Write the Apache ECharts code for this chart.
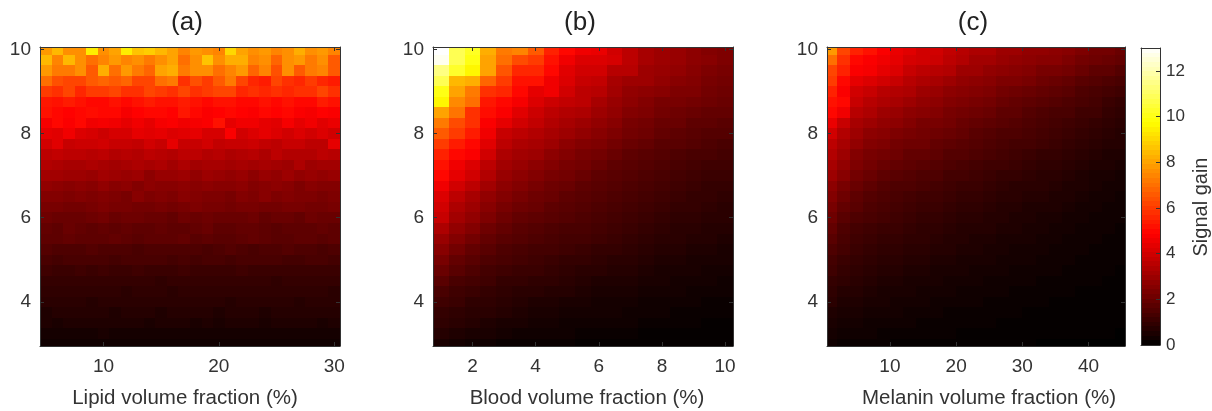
<!DOCTYPE html>
<html lang="en">
<head>
<meta charset="UTF-8">
<title>Signal gain maps</title>
<script src="https://cdn.jsdelivr.net/npm/echarts@6/dist/echarts.min.js"></script>
<style>html,body{margin:0;padding:0;background:#fff}</style>
</head>
<body>
<div id="main" style="width:1212px;height:411px"></div>
<script>
// depth rows, top to bottom
var depths = [10,9.75,9.5,9.25,9,8.75,8.5,8.25,8,7.75,7.5,7.25,7,6.75,6.5,6.25,6,5.75,5.5,5.25,5,4.75,4.5,4.25,4,3.75,3.5,3.25,3];
var lipid = [5,6,7,8,9,10,11,12,13,14,15,16,17,18,19,20,21,22,23,24,25,26,27,28,29,30];
var blood = [1,1.5,2,2.5,3,3.5,4,4.5,5,5.5,6,6.5,7,7.5,8,8.5,9,9.5,10];
var melanin = [1,3,5,7,9,11,13,15,17,19,21,23,25,27,29,31,33,35,37,39,41,43,45];

// signal gain x10, one line per depth row
var lipidGain = [
[78,84,76,76,94,76,80,94,86,88,84,80,74,78,76,74,90,80,76,78,74,76,82,76,78,74],
[84,74,84,76,70,74,78,74,76,72,76,80,70,76,86,76,82,82,74,76,68,76,78,72,76,66],
[78,72,72,76,66,82,70,78,72,68,80,82,72,76,76,70,74,78,68,74,64,76,66,72,74,66],
[70,64,62,62,66,68,66,68,62,62,70,72,58,64,60,66,72,62,56,54,62,58,56,60,56,54],
[60,58,62,56,60,60,62,58,58,62,60,58,62,58,60,62,62,56,58,56,58,56,58,58,62,58],
[53,52,54,52,50,50,52,50,52,54,52,52,54,52,50,52,52,50,50,52,50,52,50,50,54,52],
[52,50,49,50,51,50,50,47,49,50,50,49,53,50,48,49,50,49,48,50,49,50,48,47,49,48],
[47,50,48,50,46,47,46,44,46,44,47,48,46,47,48,52,44,46,46,44,43,47,44,46,43,45],
[44,43,46,42,41,39,41,41,44,43,44,42,43,44,41,41,48,40,42,44,42,40,42,40,42,40],
[40,43,38,39,39,40,38,38,37,40,38,44,38,38,40,37,38,38,39,37,36,38,38,36,36,44],
[36,37,36,36,35,36,34,35,34,36,35,34,36,36,34,35,33,34,35,33,36,34,34,34,36,35],
[34,33,32,32,33,32,31,32,33,32,33,31,33,31,32,32,31,32,31,32,31,30,33,30,31,31],
[31,31,30,30,29,31,30,29,30,27,29,29,30,28,30,29,28,29,27,29,28,30,28,29,28,29],
[28,27,26,27,26,28,26,27,25,27,26,26,27,26,27,26,26,27,25,26,27,26,24,26,25,25],
[25,25,24,25,24,25,24,23,26,24,25,24,26,25,24,24,23,25,24,26,24,25,24,24,23,24],
[23,23,22,22,23,24,23,23,22,22,23,22,23,24,23,23,22,23,23,22,22,23,23,22,22,23],
[21,20,20,20,21,22,20,21,21,20,20,19,21,20,21,20,20,20,21,19,20,20,19,21,20,20],
[19,18,20,19,18,19,18,19,18,18,19,18,18,19,20,18,18,19,19,18,17,18,18,18,19,18],
[18,18,19,18,18,18,19,18,17,18,18,18,19,17,18,17,17,18,19,18,17,17,18,18,17,18],
[16,15,15,15,16,15,15,15,14,15,15,15,15,15,14,15,16,15,14,15,15,16,15,15,14,15],
[14,13,14,14,14,14,13,14,14,14,14,13,14,13,14,14,13,14,14,14,14,13,13,14,14,13],
[12,11,11,12,11,12,11,11,12,11,11,11,12,11,11,11,11,12,11,11,11,11,11,11,11,11],
[10,10,10,10,10,10,10,10,10,10,9,10,10,10,10,10,10,10,10,10,9,10,10,10,10,10],
[9,9,9,9,9,9,9,8,9,9,9,8,9,9,9,9,9,9,9,9,9,9,9,9,9,8],
[8,8,8,8,7,8,8,8,8,8,8,8,8,8,8,8,7,8,8,8,8,8,7,8,8,8],
[6,7,7,7,7,7,6,7,7,7,6,7,7,7,7,6,7,7,7,6,7,7,7,7,7,7],
[6,5,6,6,6,6,6,6,6,5,6,6,6,5,6,5,6,6,6,5,6,6,6,6,5,6],
[4,4,4,4,4,5,4,4,4,4,4,4,4,4,4,4,4,4,4,4,4,4,4,4,4,4],
[3,3,3,3,3,3,3,3,3,3,3,3,3,3,3,3,3,3,3,3,3,3,3,3,3,3]
];
var bloodGain = [
[130,108,102,82,72,74,66,55,50,46,45,40,36,32,30,29,27,25,24],
[128,108,100,80,70,63,60,52,46,42,42,41,36,32,30,29,27,26,24],
[114,103,96,80,65,56,56,50,43,40,40,35,35,30,29,28,26,24,23],
[108,84,82,68,60,52,52,46,42,38,37,32,30,30,28,26,25,23,22],
[100,80,72,58,56,50,44,46,40,36,35,31,28,27,26,24,24,22,21],
[96,75,70,53,50,47,42,39,37,36,32,29,27,25,23,23,22,21,20],
[80,71,58,51,48,43,39,36,34,33,30,28,25,24,22,21,20,19,19],
[72,63,58,48,44,40,37,34,32,30,28,26,23,22,20,20,18,18,17],
[66,60,54,46,38,36,34,32,30,28,26,24,22,21,19,18,17,16,16],
[60,54,50,43,36,33,32,30,27,25,24,22,20,19,17,17,16,15,14],
[55,50,48,40,33,31,30,27,25,23,22,20,18,17,16,15,14,14,13],
[52,46,42,36,31,29,27,25,23,22,20,18,17,16,15,14,13,12,12],
[50,44,40,34,29,27,25,23,22,20,18,17,16,15,14,13,12,11,11],
[46,40,36,31,27,25,23,21,20,18,17,16,15,14,13,12,11,10,10],
[42,36,32,28,25,23,21,20,18,17,16,15,14,13,12,11,10,10,9],
[40,33,30,26,23,21,20,18,17,16,15,14,13,12,11,10,10,9,8],
[38,31,28,24,21,19,18,17,16,15,14,13,12,11,10,9,9,8,8],
[33,28,25,21,19,17,16,15,14,14,13,12,11,10,9,8,8,7,7],
[29,25,22,19,17,16,15,14,13,13,12,11,10,9,8,8,7,7,6],
[26,22,19,17,15,14,13,13,12,11,10,10,9,8,7,7,6,6,5],
[23,19,17,15,14,13,12,11,10,10,9,8,8,7,6,6,5,5,5],
[20,17,15,13,12,11,11,10,9,8,8,7,7,6,5,5,5,4,4],
[17,14,13,12,10,10,9,9,8,7,6,6,6,5,5,4,4,4,3],
[14,12,11,10,9,8,8,7,7,6,5,5,5,4,4,4,3,3,3],
[12,11,9,9,8,7,6,6,5,5,4,4,4,3,3,3,3,2,2],
[10,9,8,8,7,6,5,5,4,4,4,4,3,3,3,2,2,2,2],
[9,8,7,6,5,5,4,4,3,3,3,3,3,2,2,2,2,1,1],
[7,6,5,5,4,3,3,3,3,2,2,2,2,1,1,1,1,1,1],
[5,4,3,3,2,2,2,2,2,1,1,1,1,1,1,1,1,1,1]
];
var melaninGain = [
[78,62,55,52,48,45,43,40,40,37,35,33,33,30,30,28,28,27,26,24,22,22,20],
[70,58,50,48,46,44,41,40,39,36,34,31,31,29,28,27,26,26,24,22,21,20,19],
[62,55,48,47,44,42,38,36,35,34,30,30,28,27,26,25,23,23,22,20,18,18,16],
[60,50,44,42,40,38,35,33,32,30,28,27,26,24,24,23,21,20,19,17,16,15,14],
[55,48,40,38,35,34,33,30,29,27,26,25,24,22,21,20,19,18,17,15,14,13,12],
[52,50,38,35,33,32,30,28,27,25,24,23,22,20,19,18,17,16,15,14,13,11,10],
[50,46,35,33,30,29,27,26,25,23,22,21,20,18,18,16,15,14,14,12,12,10,9],
[45,38,32,30,28,27,25,23,23,22,20,19,18,17,16,15,14,13,12,11,10,9,8],
[40,34,30,27,26,24,23,22,21,20,19,17,16,15,15,14,13,12,11,10,9,8,7],
[36,32,28,25,24,22,21,21,19,18,17,16,15,14,13,13,12,11,10,9,8,7,7],
[34,30,25,23,22,21,19,19,18,16,16,15,14,13,12,11,10,10,9,8,7,6,6],
[32,28,24,22,20,19,18,17,16,15,14,13,12,12,11,10,9,9,8,7,6,6,5],
[30,26,22,20,18,17,16,15,15,13,13,12,11,10,10,9,8,8,7,6,5,5,4],
[27,23,20,18,16,15,15,14,13,12,11,11,10,9,8,8,8,7,6,6,5,4,4],
[25,21,18,16,15,14,13,12,12,11,10,10,9,8,8,7,7,6,6,5,4,4,3],
[23,19,17,15,14,13,12,11,11,10,9,9,8,7,7,6,6,6,5,4,4,3,3],
[21,17,15,14,13,12,11,10,10,9,8,8,7,7,6,6,5,5,4,4,3,3,3],
[19,15,13,12,11,11,10,9,9,8,7,7,7,6,6,5,5,4,4,3,3,3,2],
[17,14,12,11,10,10,9,9,8,7,7,6,6,5,5,5,4,4,3,3,3,2,2],
[15,13,11,10,9,9,8,8,7,7,6,6,5,5,4,4,4,3,3,3,2,2,2],
[13,11,10,9,8,8,7,7,6,6,5,5,5,4,4,4,3,3,3,2,2,2,2],
[12,10,9,8,7,7,6,6,5,5,5,4,4,4,3,3,3,3,2,2,2,2,1],
[10,9,8,7,6,6,5,5,5,4,4,4,3,3,3,3,2,2,2,2,2,1,1],
[9,7,7,6,5,5,5,4,4,4,3,3,3,3,2,2,2,2,2,1,1,1,1],
[8,6,6,5,5,4,4,4,3,3,3,3,2,2,2,2,2,1,1,1,1,1,1],
[6,5,5,4,4,4,3,3,3,2,2,2,2,2,2,1,1,1,1,1,1,1,1],
[5,4,4,3,3,3,3,2,2,2,2,2,2,1,1,1,1,1,1,1,1,1,1],
[4,3,3,3,2,2,2,2,2,2,1,1,1,1,1,1,1,1,1,1,1,1,0],
[3,2,2,2,2,1,1,1,1,1,1,1,1,1,1,1,0,0,0,0,0,0,0]
];
var colorbarTicks = [0,2,4,6,8,10,12];
var depthTicks = [4,6,8,10];

var textColor = '#333';
var fontName = '"Liberation Sans", Arial, sans-serif';
var myChart = echarts.init(document.getElementById('main'));

function toCells(xs, rows) {
    var out = [];
    rows.forEach(function(row, r) {
        row.forEach(function(v, c) {
            out.push([xs[c], depths[r], v / 10]);
        });
    });
    return out;
}

function cellItem(dx, dy) {
    return function(params, api) {
        var a = api.coord([api.value(0) - dx / 2, api.value(1) + dy / 2]);
        var b = api.coord([api.value(0) + dx / 2, api.value(1) - dy / 2]);
        var x0 = Math.round(a[0]), y0 = Math.round(a[1]);
        return {
            type: 'rect',
            shape: { x: x0, y: y0, width: Math.round(b[0]) - x0, height: Math.round(b[1]) - y0 },
            style: { fill: api.visual('color') }
        };
    };
}

var lineStyle = { color: textColor, width: 1 };
function makeAxis(extra, showLabel, ticks) {
    return Object.assign({
        type: 'value',
        z: 5,
        splitLine: { show: false },
        axisLine: { show: true, onZero: false, lineStyle: lineStyle },
        axisTick: { show: true, inside: true, length: 4, customValues: ticks, lineStyle: lineStyle },
        axisLabel: showLabel
            ? { show: true, customValues: ticks, color: textColor, fontSize: 19, fontFamily: fontName, margin: 9 }
            : { show: false }
    }, extra);
}

var panels = [
    { title: '(a)', name: 'Lipid volume fraction (%)', xs: lipid, rows: lipidGain, left: 40, width: 300, xMin: 4.5, xMax: 30.5, ticks: [10,20,30], titleX: 182, pad: [0, 10, 0, 0] },
    { title: '(b)', name: 'Blood volume fraction (%)', xs: blood, rows: bloodGain, left: 433, width: 300, xMin: 0.75, xMax: 10.25, ticks: [2,4,6,8,10], titleX: 575, pad: [0, 0, 0, 8] },
    { title: '(c)', name: 'Melanin volume fraction (%)', xs: melanin, rows: melaninGain, left: 827, width: 298, xMin: 0.5, xMax: 45.5, ticks: [10,20,30,40], titleX: 968, pad: [0, 0, 0, 26] }
];

var option = {
    animation: false,
    backgroundColor: '#fff',
    title: [], grid: [], xAxis: [], yAxis: [], series: [],
    visualMap: {
        show: false,
        min: 0, max: 13,
        dimension: 2,
        // matlab hot
        inRange: { color: ['#000000','#550000','#aa0000','#ff0000','#ff5500','#ffaa00','#ffff00','#ffff80','#ffffff'] }
    }
};

panels.forEach(function(p, i) {
    option.title.push({
        text: p.title, left: p.titleX, top: 5, textAlign: 'center',
        textStyle: { color: '#222', fontSize: 26, fontWeight: 'normal', fontFamily: fontName }
    });
    option.grid.push({ left: p.left, top: 47, width: p.width, height: 299, outerBoundsMode: 'none' });
    var bottomAxis = makeAxis({
        gridIndex: i, position: 'bottom', min: p.xMin, max: p.xMax,
        name: p.name, nameLocation: 'middle', nameGap: 42,
        nameTextStyle: { color: textColor, fontSize: 20.5, fontFamily: fontName, padding: p.pad }
    }, true, p.ticks);
    bottomAxis.axisLabel.margin = 11;
    option.xAxis.push(bottomAxis);
    option.xAxis.push(makeAxis({ gridIndex: i, position: 'top', min: p.xMin, max: p.xMax }, false, p.ticks));
    option.yAxis.push(makeAxis({ gridIndex: i, position: 'left', min: 2.95, max: 10.06 }, true, depthTicks));
    option.yAxis.push(makeAxis({ gridIndex: i, position: 'right', min: 2.95, max: 10.06 }, false, depthTicks));
    option.series.push({
        type: 'custom',
        z: 1,
        clip: true,
        xAxisIndex: i * 2,
        yAxisIndex: i * 2,
        renderItem: cellItem(p.xs[1] - p.xs[0], depths[0] - depths[1]),
        encode: { x: 0, y: 1 },
        data: toCells(p.xs, p.rows)
    });
});

// colorbar as a fourth small grid
var barLevels = [];
for (var lv = 0; lv < 64; lv++) barLevels.push([0.5, (lv + 0.5) * 13 / 64, (lv + 0.5) * 13 / 64]);
option.grid.push({ left: 1141, top: 48, width: 19, height: 297, outerBoundsMode: 'none' });
option.xAxis.push(makeAxis({ gridIndex: 3, position: 'bottom', min: 0, max: 1, axisTick: { show: false } }, false, []));
option.xAxis.push(makeAxis({ gridIndex: 3, position: 'top', min: 0, max: 1, axisTick: { show: false } }, false, []));
option.yAxis.push(makeAxis({ gridIndex: 3, position: 'left', min: 0, max: 13, axisTick: { show: false } }, false, []));
var barAxis = makeAxis({
    gridIndex: 3, position: 'right', min: 0, max: 13,
    name: 'Signal gain', nameLocation: 'middle', nameGap: 31, nameRotate: 90,
    nameTextStyle: { color: textColor, fontSize: 20, fontFamily: fontName, padding: [0, 21, 0, 0] }
}, true, colorbarTicks);
barAxis.axisLabel.fontSize = 17;
barAxis.axisLabel.margin = 6;
option.yAxis.push(barAxis);
option.series.push({
    type: 'custom',
    z: 1,
    clip: true,
    xAxisIndex: 6,
    yAxisIndex: 6,
    renderItem: cellItem(1, 13 / 64),
    encode: { x: 0, y: 1 },
    data: barLevels
});

myChart.setOption(option);
</script>
</body>
</html>
